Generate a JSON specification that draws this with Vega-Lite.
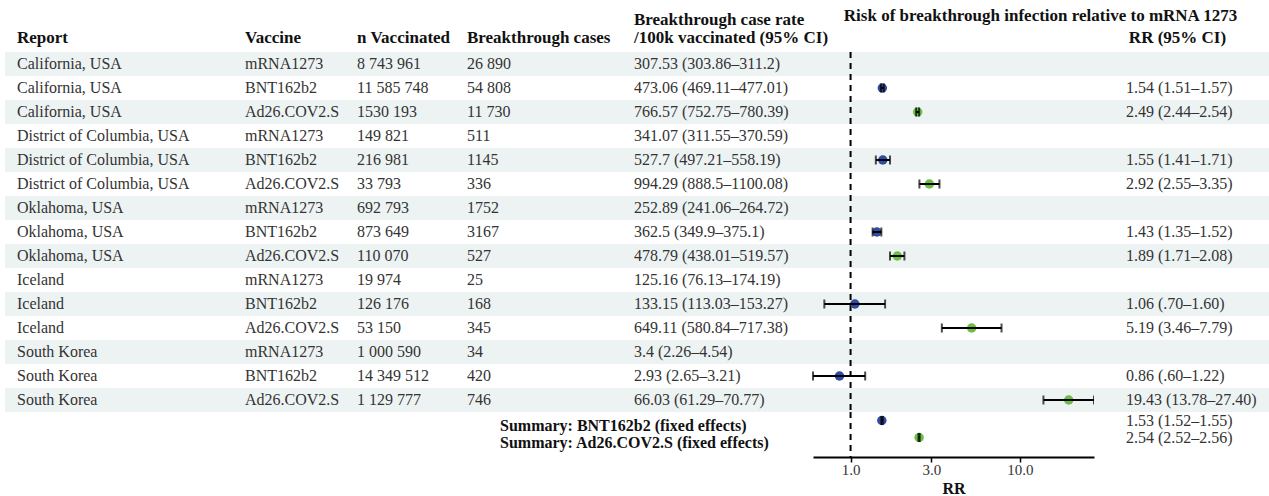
{
  "$schema": "https://vega.github.io/schema/vega-lite/v6.json",
  "padding": {"left": 5, "top": 7, "right": 0, "bottom": 0},
  "spacing": 0,
  "bounds": "flush",
  "columns": 7,
  "config": {
    "view": {"stroke": null},
    "font": "Liberation Serif",
    "text": {"font": "Liberation Serif", "fontSize": 16, "color": "#333333", "align": "left", "baseline": "middle"},
    "title": {"font": "Liberation Serif", "fontSize": 17, "fontWeight": "bold", "color": "#111111", "anchor": "start", "offset": 5, "lineHeight": 18}
  },
  "datasets": {
    "t": [
      {"report": "California, USA", "vaccine": "mRNA1273", "n": "8 743 961", "cases": "26 890", "rate": "307.53 (303.86–311.2)", "rr": null, "lo": null, "hi": null, "rrlab": "", "grp": "mRNA1273", "summary": ""},
      {"report": "California, USA", "vaccine": "BNT162b2", "n": "11 585 748", "cases": "54 808", "rate": "473.06 (469.11–477.01)", "rr": 1.54, "lo": 1.51, "hi": 1.57, "rrlab": "1.54 (1.51–1.57)", "grp": "BNT162b2", "summary": ""},
      {"report": "California, USA", "vaccine": "Ad26.COV2.S", "n": "1530 193", "cases": "11 730", "rate": "766.57 (752.75–780.39)", "rr": 2.49, "lo": 2.44, "hi": 2.54, "rrlab": "2.49 (2.44–2.54)", "grp": "Ad26.COV2.S", "summary": ""},
      {"report": "District of Columbia, USA", "vaccine": "mRNA1273", "n": "149 821", "cases": "511", "rate": "341.07 (311.55–370.59)", "rr": null, "lo": null, "hi": null, "rrlab": "", "grp": "mRNA1273", "summary": ""},
      {"report": "District of Columbia, USA", "vaccine": "BNT162b2", "n": "216 981", "cases": "1145", "rate": "527.7 (497.21–558.19)", "rr": 1.55, "lo": 1.41, "hi": 1.71, "rrlab": "1.55 (1.41–1.71)", "grp": "BNT162b2", "summary": ""},
      {"report": "District of Columbia, USA", "vaccine": "Ad26.COV2.S", "n": "33 793", "cases": "336", "rate": "994.29 (888.5–1100.08)", "rr": 2.92, "lo": 2.55, "hi": 3.35, "rrlab": "2.92 (2.55–3.35)", "grp": "Ad26.COV2.S", "summary": ""},
      {"report": "Oklahoma, USA", "vaccine": "mRNA1273", "n": "692 793", "cases": "1752", "rate": "252.89 (241.06–264.72)", "rr": null, "lo": null, "hi": null, "rrlab": "", "grp": "mRNA1273", "summary": ""},
      {"report": "Oklahoma, USA", "vaccine": "BNT162b2", "n": "873 649", "cases": "3167", "rate": "362.5 (349.9–375.1)", "rr": 1.43, "lo": 1.35, "hi": 1.52, "rrlab": "1.43 (1.35–1.52)", "grp": "BNT162b2", "summary": ""},
      {"report": "Oklahoma, USA", "vaccine": "Ad26.COV2.S", "n": "110 070", "cases": "527", "rate": "478.79 (438.01–519.57)", "rr": 1.89, "lo": 1.71, "hi": 2.08, "rrlab": "1.89 (1.71–2.08)", "grp": "Ad26.COV2.S", "summary": ""},
      {"report": "Iceland", "vaccine": "mRNA1273", "n": "19 974", "cases": "25", "rate": "125.16 (76.13–174.19)", "rr": null, "lo": null, "hi": null, "rrlab": "", "grp": "mRNA1273", "summary": ""},
      {"report": "Iceland", "vaccine": "BNT162b2", "n": "126 176", "cases": "168", "rate": "133.15 (113.03–153.27)", "rr": 1.06, "lo": 0.70, "hi": 1.60, "rrlab": "1.06 (.70–1.60)", "grp": "BNT162b2", "summary": ""},
      {"report": "Iceland", "vaccine": "Ad26.COV2.S", "n": "53 150", "cases": "345", "rate": "649.11 (580.84–717.38)", "rr": 5.19, "lo": 3.46, "hi": 7.79, "rrlab": "5.19 (3.46–7.79)", "grp": "Ad26.COV2.S", "summary": ""},
      {"report": "South Korea", "vaccine": "mRNA1273", "n": "1 000 590", "cases": "34", "rate": "3.4 (2.26–4.54)", "rr": null, "lo": null, "hi": null, "rrlab": "", "grp": "mRNA1273", "summary": ""},
      {"report": "South Korea", "vaccine": "BNT162b2", "n": "14 349 512", "cases": "420", "rate": "2.93 (2.65–3.21)", "rr": 0.86, "lo": 0.60, "hi": 1.22, "rrlab": "0.86 (.60–1.22)", "grp": "BNT162b2", "summary": ""},
      {"report": "South Korea", "vaccine": "Ad26.COV2.S", "n": "1 129 777", "cases": "746", "rate": "66.03 (61.29–70.77)", "rr": 19.43, "lo": 13.78, "hi": 27.40, "rrlab": "19.43 (13.78–27.40)", "grp": "Ad26.COV2.S", "summary": ""},
      {"report": "", "vaccine": "", "n": "", "cases": "", "rate": "", "rr": 1.53, "lo": 1.52, "hi": 1.55, "rrlab": "1.53 (1.52–1.55)", "grp": "BNT162b2", "summary": "Summary: BNT162b2 (fixed effects)"},
      {"report": "", "vaccine": "", "n": "", "cases": "", "rate": "", "rr": 2.54, "lo": 2.52, "hi": 2.56, "rrlab": "2.54 (2.52–2.56)", "grp": "Ad26.COV2.S", "summary": "Summary: Ad26.COV2.S (fixed effects)"}
    ]
  },
  "concat": [
    {
      "width": 240, "height": 360,
      "title": {"text": "Report", "dx": 12},
      "data": {"name": "t"},
      "transform": [{"window": [{"op": "row_number", "as": "idx"}]}, {"filter": "datum.idx <= 15"}, {"fold": ["report"], "as": ["col", "val"]}],
      "layer": [
        {"mark": {"type": "rect", "color": "#edf3f3"}, "transform": [{"filter": "datum.idx % 2 == 1"}],
         "encoding": {"y": {"field": "idx", "type": "ordinal", "axis": null, "scale": {"type": "band", "domain": [1,2,3,4,5,6,7,8,9,10,11,12,13,14,15], "paddingInner": 0, "paddingOuter": 0}}}},
        {"mark": {"type": "text", "dx": 12},
         "encoding": {"y": {"field": "idx", "type": "ordinal", "axis": null},
                      "x": {"field": "col", "type": "nominal", "axis": null, "bandPosition": 0, "scale": {"type": "band", "paddingInner": 0, "paddingOuter": 0}}, "text": {"field": "val"}}}
      ]
    },
    {
      "width": 112, "height": 360,
      "title": {"text": "Vaccine"},
      "data": {"name": "t"},
      "transform": [{"window": [{"op": "row_number", "as": "idx"}]}, {"filter": "datum.idx <= 15"}, {"fold": ["vaccine"], "as": ["col", "val"]}],
      "layer": [
        {"mark": {"type": "rect", "color": "#edf3f3"}, "transform": [{"filter": "datum.idx % 2 == 1"}],
         "encoding": {"y": {"field": "idx", "type": "ordinal", "axis": null, "scale": {"type": "band", "domain": [1,2,3,4,5,6,7,8,9,10,11,12,13,14,15], "paddingInner": 0, "paddingOuter": 0}}}},
        {"mark": {"type": "text"},
         "encoding": {"y": {"field": "idx", "type": "ordinal", "axis": null},
                      "x": {"field": "col", "type": "nominal", "axis": null, "bandPosition": 0, "scale": {"type": "band", "paddingInner": 0, "paddingOuter": 0}}, "text": {"field": "val"}}}
      ]
    },
    {
      "width": 110, "height": 360,
      "title": {"text": "n Vaccinated"},
      "data": {"name": "t"},
      "transform": [{"window": [{"op": "row_number", "as": "idx"}]}, {"filter": "datum.idx <= 15"}, {"fold": ["n"], "as": ["col", "val"]}],
      "layer": [
        {"mark": {"type": "rect", "color": "#edf3f3"}, "transform": [{"filter": "datum.idx % 2 == 1"}],
         "encoding": {"y": {"field": "idx", "type": "ordinal", "axis": null, "scale": {"type": "band", "domain": [1,2,3,4,5,6,7,8,9,10,11,12,13,14,15], "paddingInner": 0, "paddingOuter": 0}}}},
        {"mark": {"type": "text"},
         "encoding": {"y": {"field": "idx", "type": "ordinal", "axis": null},
                      "x": {"field": "col", "type": "nominal", "axis": null, "bandPosition": 0, "scale": {"type": "band", "paddingInner": 0, "paddingOuter": 0}}, "text": {"field": "val"}}}
      ]
    },
    {
      "width": 167, "height": 360,
      "title": {"text": "Breakthrough cases"},
      "data": {"name": "t"},
      "transform": [{"window": [{"op": "row_number", "as": "idx"}]}, {"filter": "datum.idx <= 15"}, {"fold": ["cases"], "as": ["col", "val"]}],
      "layer": [
        {"mark": {"type": "rect", "color": "#edf3f3"}, "transform": [{"filter": "datum.idx % 2 == 1"}],
         "encoding": {"y": {"field": "idx", "type": "ordinal", "axis": null, "scale": {"type": "band", "domain": [1,2,3,4,5,6,7,8,9,10,11,12,13,14,15], "paddingInner": 0, "paddingOuter": 0}}}},
        {"mark": {"type": "text"},
         "encoding": {"y": {"field": "idx", "type": "ordinal", "axis": null},
                      "x": {"field": "col", "type": "nominal", "axis": null, "bandPosition": 0, "scale": {"type": "band", "paddingInner": 0, "paddingOuter": 0}}, "text": {"field": "val"}}}
      ]
    },
    {
      "width": 179, "height": 360,
      "title": {"text": ["Breakthrough case rate", "/100k vaccinated (95% CI)"]},
      "data": {"name": "t"},
      "transform": [{"window": [{"op": "row_number", "as": "idx"}]}, {"filter": "datum.idx <= 15"}, {"fold": ["rate"], "as": ["col", "val"]}],
      "layer": [
        {"mark": {"type": "rect", "color": "#edf3f3"}, "transform": [{"filter": "datum.idx % 2 == 1"}],
         "encoding": {"y": {"field": "idx", "type": "ordinal", "axis": null, "scale": {"type": "band", "domain": [1,2,3,4,5,6,7,8,9,10,11,12,13,14,15], "paddingInner": 0, "paddingOuter": 0}}}},
        {"mark": {"type": "text"},
         "encoding": {"y": {"field": "idx", "type": "ordinal", "axis": null},
                      "x": {"field": "col", "type": "nominal", "axis": null, "bandPosition": 0, "scale": {"type": "band", "paddingInner": 0, "paddingOuter": 0}}, "text": {"field": "val"}}}
      ]
    },
    {
      "width": 281, "height": 360,
      "title": {"text": "Risk of breakthrough infection relative to mRNA 1273", "anchor": "middle", "dx": 87, "offset": 26},
      "data": {"name": "t"},
      "transform": [{"window": [{"op": "row_number", "as": "idx"}]}, {"filter": "datum.idx <= 15"}],
      "layer": [
        {"mark": {"type": "rect", "color": "#edf3f3"}, "transform": [{"filter": "datum.idx % 2 == 1"}],
         "encoding": {"y": {"field": "idx", "type": "ordinal", "axis": null, "scale": {"type": "band", "domain": [1,2,3,4,5,6,7,8,9,10,11,12,13,14,15], "paddingInner": 0, "paddingOuter": 0}}}},
        {"mark": {"type": "rule", "strokeDash": [6, 5], "strokeWidth": 2, "color": "#000000"}, "transform": [{"filter": "datum.idx == 1"}],
         "encoding": {"x": {"datum": 1, "type": "quantitative", "axis": null, "scale": {"type": "log", "domain": [0.6, 27.4], "nice": false}}}},
        {"mark": {"type": "point", "filled": true, "size": 90, "opacity": 1},
         "transform": [{"filter": "isValid(datum.rr)"}],
         "encoding": {
           "y": {"field": "idx", "type": "ordinal", "axis": null},
           "x": {"field": "rr", "type": "quantitative", "axis": null},
           "color": {"field": "grp", "type": "nominal", "legend": null, "scale": {"domain": ["BNT162b2", "Ad26.COV2.S"], "range": ["#2f4c9e", "#6cbf43"]}}
         }},
        {"mark": {"type": "rule", "strokeWidth": 2, "color": "#000000"}, "transform": [{"filter": "isValid(datum.rr)"}],
         "encoding": {"y": {"field": "idx", "type": "ordinal", "axis": null}, "x": {"field": "lo", "type": "quantitative", "axis": null}, "x2": {"field": "hi"}}},
        {"mark": {"type": "tick", "thickness": 2, "size": 9, "color": "#000000", "orient": "vertical"}, "transform": [{"filter": "isValid(datum.rr)"}],
         "encoding": {"y": {"field": "idx", "type": "ordinal", "axis": null}, "x": {"field": "lo", "type": "quantitative", "axis": null}}},
        {"mark": {"type": "tick", "thickness": 2, "size": 9, "color": "#000000", "orient": "vertical"}, "transform": [{"filter": "isValid(datum.rr)"}],
         "encoding": {"y": {"field": "idx", "type": "ordinal", "axis": null}, "x": {"field": "hi", "type": "quantitative", "axis": null}}}
      ]
    },
    {
      "width": 175, "height": 360,
      "title": {"text": "RR (95% CI)", "anchor": "middle", "dx": -4},
      "data": {"name": "t"},
      "transform": [{"window": [{"op": "row_number", "as": "idx"}]}, {"filter": "datum.idx <= 15"}, {"fold": ["rrlab"], "as": ["col", "val"]}],
      "layer": [
        {"mark": {"type": "rect", "color": "#edf3f3"}, "transform": [{"filter": "datum.idx % 2 == 1"}],
         "encoding": {"y": {"field": "idx", "type": "ordinal", "axis": null, "scale": {"type": "band", "domain": [1,2,3,4,5,6,7,8,9,10,11,12,13,14,15], "paddingInner": 0, "paddingOuter": 0}}}},
        {"mark": {"type": "text", "dx": 32},
         "encoding": {"y": {"field": "idx", "type": "ordinal", "axis": null},
                      "x": {"field": "col", "type": "nominal", "axis": null, "bandPosition": 0, "scale": {"type": "band", "paddingInner": 0, "paddingOuter": 0}}, "text": {"field": "val"}}}
      ]
    },
    {
      "width": 240, "height": 45,
      "data": {"name": "t"},
      "transform": [{"window": [{"op": "row_number", "as": "idx"}]}, {"filter": "datum.idx >= 16"}, {"fold": ["report"], "as": ["col", "val"]}],
      "mark": {"type": "text", "dx": 12},
      "encoding": {
        "y": {"field": "idx", "type": "ordinal", "axis": null, "scale": {"type": "band", "domain": [16, 17], "paddingInner": 0, "paddingOuter": 0.3235, "align": 0}},
        "x": {"field": "col", "type": "nominal", "axis": null, "bandPosition": 0, "scale": {"type": "band", "paddingInner": 0, "paddingOuter": 0}},
        "text": {"field": "val"}
      }
    },
    {
      "width": 112, "height": 45,
      "data": {"name": "t"},
      "transform": [{"window": [{"op": "row_number", "as": "idx"}]}, {"filter": "datum.idx >= 16"}, {"fold": ["vaccine"], "as": ["col", "val"]}],
      "mark": {"type": "text"},
      "encoding": {
        "y": {"field": "idx", "type": "ordinal", "axis": null, "scale": {"type": "band", "domain": [16, 17], "paddingInner": 0, "paddingOuter": 0.3235, "align": 0}},
        "x": {"field": "col", "type": "nominal", "axis": null, "bandPosition": 0, "scale": {"type": "band", "paddingInner": 0, "paddingOuter": 0}},
        "text": {"field": "val"}
      }
    },
    {
      "width": 110, "height": 45,
      "data": {"name": "t"},
      "transform": [{"window": [{"op": "row_number", "as": "idx"}]}, {"filter": "datum.idx >= 16"}, {"fold": ["n"], "as": ["col", "val"]}],
      "mark": {"type": "text"},
      "encoding": {
        "y": {"field": "idx", "type": "ordinal", "axis": null, "scale": {"type": "band", "domain": [16, 17], "paddingInner": 0, "paddingOuter": 0.3235, "align": 0}},
        "x": {"field": "col", "type": "nominal", "axis": null, "bandPosition": 0, "scale": {"type": "band", "paddingInner": 0, "paddingOuter": 0}},
        "text": {"field": "val"}
      }
    },
    {
      "width": 167, "height": 45,
      "data": {"name": "t"},
      "transform": [{"window": [{"op": "row_number", "as": "idx"}]}, {"filter": "datum.idx >= 16"}, {"fold": ["summary"], "as": ["col", "val"]}],
      "mark": {"type": "text", "dx": 33, "dy": 5, "fontWeight": "bold", "color": "#111111"},
      "encoding": {
        "y": {"field": "idx", "type": "ordinal", "axis": null, "scale": {"type": "band", "domain": [16, 17], "paddingInner": 0, "paddingOuter": 0.3235, "align": 0}},
        "x": {"field": "col", "type": "nominal", "axis": null, "bandPosition": 0, "scale": {"type": "band", "paddingInner": 0, "paddingOuter": 0}},
        "text": {"field": "val"}
      }
    },
    {
      "width": 179, "height": 45,
      "data": {"name": "t"},
      "transform": [{"window": [{"op": "row_number", "as": "idx"}]}, {"filter": "datum.idx >= 16"}, {"fold": ["rate"], "as": ["col", "val"]}],
      "mark": {"type": "text"},
      "encoding": {
        "y": {"field": "idx", "type": "ordinal", "axis": null, "scale": {"type": "band", "domain": [16, 17], "paddingInner": 0, "paddingOuter": 0.3235, "align": 0}},
        "x": {"field": "col", "type": "nominal", "axis": null, "bandPosition": 0, "scale": {"type": "band", "paddingInner": 0, "paddingOuter": 0}},
        "text": {"field": "val"}
      }
    },
    {
      "width": 281, "height": 45,
      "data": {"name": "t"},
      "transform": [{"window": [{"op": "row_number", "as": "idx"}]}, {"filter": "datum.idx >= 16"}],
      "layer": [
        {"mark": {"type": "rule", "strokeDash": [6, 5], "strokeWidth": 2, "color": "#000000"}, "transform": [{"filter": "datum.idx == 16"}],
         "encoding": {"x": {"datum": 1, "type": "quantitative",
                 "scale": {"type": "log", "domain": [0.6, 27.4], "nice": false},
                 "axis": {"values": [1, 3, 10], "format": ".1f", "title": "RR", "grid": false,
                          "domainColor": "#000000", "domainWidth": 2, "tickColor": "#000000", "tickSize": 5, "tickWidth": 1.5,
                          "labelFont": "Liberation Serif", "labelFontSize": 15, "labelColor": "#333333", "labelPadding": 0,
                          "titleFont": "Liberation Serif", "titleFontSize": 16, "titleFontWeight": "bold", "titleColor": "#111111", "titlePadding": 3}}}},
        {"mark": {"type": "point", "filled": true, "size": 90, "opacity": 1},
         "encoding": {
           "y": {"field": "idx", "type": "ordinal", "axis": null, "scale": {"type": "band", "domain": [16, 17], "paddingInner": 0, "paddingOuter": 0.3235, "align": 0}},
           "x": {"field": "rr", "type": "quantitative"},
           "color": {"field": "grp", "type": "nominal", "legend": null, "scale": {"domain": ["BNT162b2", "Ad26.COV2.S"], "range": ["#2f4c9e", "#6cbf43"]}}
         }},
        {"mark": {"type": "rule", "strokeWidth": 2, "color": "#000000"},
         "encoding": {"y": {"field": "idx", "type": "ordinal", "axis": null}, "x": {"field": "lo", "type": "quantitative"}, "x2": {"field": "hi"}}},
        {"mark": {"type": "tick", "thickness": 2, "size": 9, "color": "#000000", "orient": "vertical"},
         "encoding": {"y": {"field": "idx", "type": "ordinal", "axis": null}, "x": {"field": "lo", "type": "quantitative"}}},
        {"mark": {"type": "tick", "thickness": 2, "size": 9, "color": "#000000", "orient": "vertical"},
         "encoding": {"y": {"field": "idx", "type": "ordinal", "axis": null}, "x": {"field": "hi", "type": "quantitative"}}}
      ]
    },
    {
      "width": 175, "height": 45,
      "data": {"name": "t"},
      "transform": [{"window": [{"op": "row_number", "as": "idx"}]}, {"filter": "datum.idx >= 16"}, {"fold": ["rrlab"], "as": ["col", "val"]}],
      "mark": {"type": "text", "dx": 32},
      "encoding": {
        "y": {"field": "idx", "type": "ordinal", "axis": null, "scale": {"type": "band", "domain": [16, 17], "paddingInner": 0, "paddingOuter": 0.3235, "align": 0}},
        "x": {"field": "col", "type": "nominal", "axis": null, "bandPosition": 0, "scale": {"type": "band", "paddingInner": 0, "paddingOuter": 0}},
        "text": {"field": "val"}
      }
    }
  ]
}
